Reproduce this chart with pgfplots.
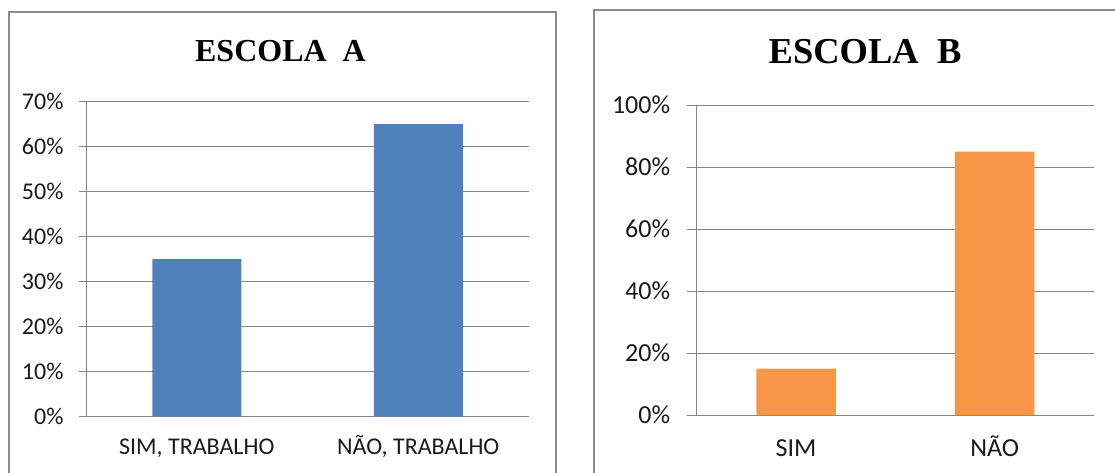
\documentclass[border=0pt]{standalone}
\usepackage{fontspec}
\setmainfont{Carlito}
\newfontfamily\titlefont{Liberation Serif}
\usepackage{pgfplots}
\pgfplotsset{compat=1.18}
\definecolor{barblue}{HTML}{4F81BD}
\definecolor{barorange}{HTML}{F79646}
\definecolor{gridgray}{HTML}{868686}
\definecolor{framegray}{HTML}{8C8C8C}
\definecolor{labeltext}{HTML}{1A1A1A}

\pgfplotsset{
  escola/.style={
    scale only axis,
    anchor=south west,
    xmin=0, xmax=2,
    ymin=0,
    axis x line*=bottom,
    axis y line*=left,
    axis line style={gridgray, line width=1pt},
    ymajorgrids,
    grid style={gridgray, line width=1pt},
    tick align=outside,
    major tick length=7pt,
    ytick style={gridgray, line width=1pt},
    xtick={0.5,1.5},
    xtick style={draw=none},
    extra x ticks={0,1,2},
    extra x tick labels={},
    extra x tick style={grid=none, tick style={gridgray, line width=1pt}},
    /pgf/number format/assume math mode=true,
    tick label style={text=labeltext},
    clip=false,
  }
}

\begin{document}
\begin{tikzpicture}
  \useasboundingbox (0pt,-472pt) rectangle (1115pt,0pt);

  % panel frames
  \draw[framegray, line width=2pt] (8.7pt,-480pt) -- (8.7pt,-11.7pt) -- (555.7pt,-11.7pt) -- (555.7pt,-480pt);
  \draw[framegray, line width=2pt] (594pt,-480pt) -- (594pt,-10pt) -- (1125pt,-10pt);

  % titles
  \node[font=\titlefont\bfseries\fontsize{32}{36}\selectfont, anchor=base] at (280.5pt,-61pt) {ESCOLA\ \ A};
  \node[font=\titlefont\bfseries\fontsize{36.5}{40}\selectfont, anchor=base] at (865pt,-63pt) {ESCOLA\ \ B};

  % Escola A
  \begin{axis}[escola,
    at={(86pt,-416.7pt)},
    width=443pt, height=315pt,
    ymax=70,
    ytick={0,10,...,70},
    yticklabels={0\%,10\%,20\%,30\%,40\%,50\%,60\%,70\%},
    xticklabels={{SIM, TRABALHO},{NÃO, TRABALHO}},
    tick label style={font=\fontsize{24}{28}\selectfont},
    yticklabel style={anchor=east, xshift=-12pt},
    xticklabel style={anchor=base, yshift=-31pt},
  ]
    \addplot[ybar, bar width=89pt, fill=barblue, draw=none] coordinates {(0.5,35) (1.5,65)};
  \end{axis}

  % Escola B
  \begin{axis}[escola,
    at={(696.7pt,-415pt)},
    width=397.3pt, height=310pt,
    ymax=100,
    major tick length=10pt,
    ytick={0,20,...,100},
    yticklabels={0\%,20\%,40\%,60\%,80\%,100\%},
    xticklabels={SIM,NÃO},
    tick label style={font=\fontsize{26}{30}\selectfont},
    yticklabel style={anchor=east, xshift=-13pt},
    xticklabel style={anchor=base, yshift=-31pt},
  ]
    \addplot[ybar, bar width=79.5pt, fill=barorange, draw=none] coordinates {(0.5,15) (1.5,85)};
  \end{axis}
\end{tikzpicture}
\end{document}
